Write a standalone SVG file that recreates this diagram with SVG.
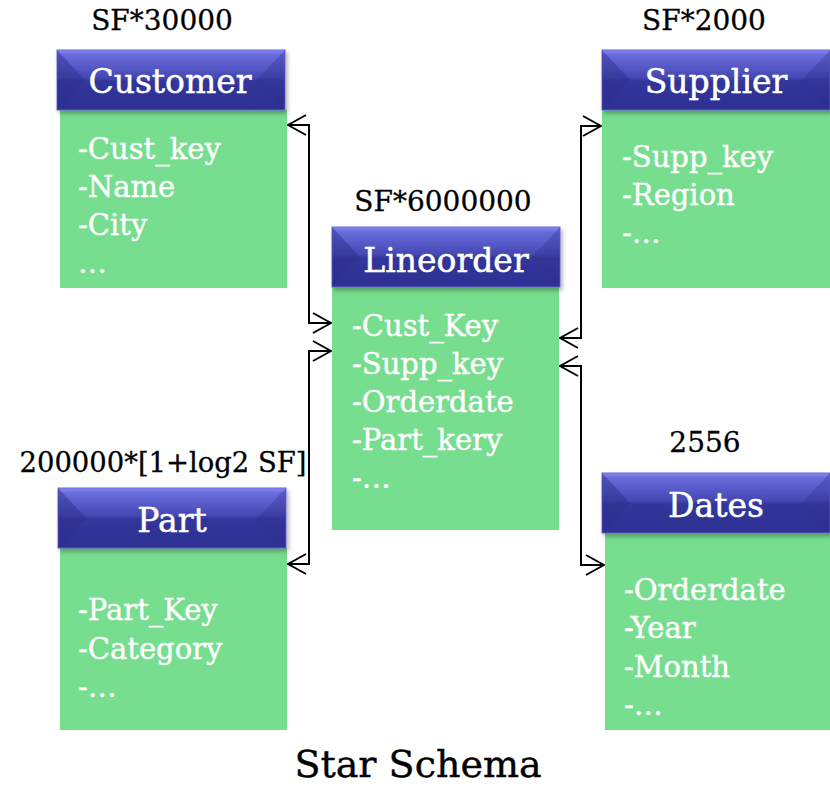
<svg xmlns="http://www.w3.org/2000/svg" xmlns:xlink="http://www.w3.org/1999/xlink" width="830" height="786" viewBox="0 0 830 786">
  <style>
    .body { fill: #77dd8f; }
    .title { font-family: "DejaVu Serif", "Liberation Serif", serif; font-size: 33px; fill: #ffffff; stroke: #ffffff; stroke-width: 0.5; text-anchor: middle; }
    .attr { font-family: "DejaVu Serif", "Liberation Serif", serif; font-size: 29px; fill: #ffffff; stroke: #ffffff; stroke-width: 0.4; }
    .card { font-family: "DejaVu Serif", "Liberation Serif", serif; font-size: 28px; fill: #000000; stroke: #000000; stroke-width: 0.3; }
    .caption { font-family: "DejaVu Serif", "Liberation Serif", serif; font-size: 38px; fill: #000000; stroke: #000000; stroke-width: 0.4; text-anchor: middle; }
    .link { fill: none; stroke: #000000; stroke-width: 2; }
  </style>
  <defs>
    <linearGradient id="face" x1="0" y1="0" x2="0" y2="1">
      <stop offset="0" stop-color="#8688f0"/>
      <stop offset="0.08" stop-color="#6a6cdc"/>
      <stop offset="0.45" stop-color="#4648b4"/>
      <stop offset="0.52" stop-color="#36389e"/>
      <stop offset="1" stop-color="#2f3194"/>
    </linearGradient>
    <filter id="shadow" x="-5%" y="-10%" width="115%" height="130%">
      <feDropShadow dx="2" dy="3" stdDeviation="2" flood-color="#000000" flood-opacity="0.3"/>
    </filter>
    <!-- bevelled title bar, 228 x 60 -->
    <g id="header">
      <rect x="0" y="0" width="228" height="60" fill="url(#face)" stroke="#6a6dd6" stroke-width="1" filter="url(#shadow)"/>
      <polygon points="0,0 28,30 0,60" fill="#2a2c88" opacity="0.45"/>
      <polygon points="228,0 200,30 228,60" fill="#2a2c88" opacity="0.3"/>
      <polygon points="0,60 28,30 200,30 228,60" fill="#2c2e90" opacity="0.25"/>
    </g>
    <!-- open arrowhead, tip at the path end -->
    <marker id="arrow" viewBox="0 0 20 22" refX="19" refY="11" markerWidth="20" markerHeight="22" markerUnits="userSpaceOnUse" orient="auto-start-reverse">
      <polyline points="1,1 19,11 1,21" fill="none" stroke="#000000" stroke-width="2"/>
    </marker>
  </defs>

  <!-- connectors -->
  <g id="connectors">
    <polyline class="link" marker-start="url(#arrow)" marker-end="url(#arrow)" points="288,125 309,125 309,323 331,323"/>
    <polyline class="link" marker-start="url(#arrow)" marker-end="url(#arrow)" points="331,351 309,351 309,564 288,564"/>
    <polyline class="link" marker-start="url(#arrow)" marker-end="url(#arrow)" points="601,126 581,126 581,338 560,338"/>
    <polyline class="link" marker-start="url(#arrow)" marker-end="url(#arrow)" points="560,366 581,366 581,565 604,565"/>
  </g>

  <g id="customer">
    <text class="card" x="162" y="30" text-anchor="middle">SF*30000</text>
    <rect class="body" x="60" y="110" width="227" height="178"/>
    <use xlink:href="#header" x="57" y="50"/>
    <text class="title" x="170" y="93">Customer</text>
    <text class="attr" x="78" y="159">-Cust_key</text>
    <text class="attr" x="78" y="197">-Name</text>
    <text class="attr" x="78" y="235">-City</text>
    <text class="attr" x="78" y="273">…</text>
  </g>

  <g id="supplier">
    <text class="card" x="704" y="30" text-anchor="middle">SF*2000</text>
    <rect class="body" x="602" y="110" width="228" height="178"/>
    <use xlink:href="#header" x="602" y="50"/>
    <text class="title" x="716" y="93">Supplier</text>
    <text class="attr" x="622" y="167">-Supp_key</text>
    <text class="attr" x="622" y="205">-Region</text>
    <text class="attr" x="622" y="243">-…</text>
  </g>

  <g id="lineorder">
    <text class="card" x="443" y="211" text-anchor="middle">SF*6000000</text>
    <rect class="body" x="332" y="287" width="227" height="243"/>
    <use xlink:href="#header" x="332" y="227"/>
    <text class="title" x="446" y="272">Lineorder</text>
    <text class="attr" x="352" y="336">-Cust_Key</text>
    <text class="attr" x="352" y="374">-Supp_key</text>
    <text class="attr" x="352" y="412">-Orderdate</text>
    <text class="attr" x="352" y="450">-Part_kery</text>
    <text class="attr" x="352" y="488">-…</text>
  </g>

  <g id="part">
    <text class="card" x="163" y="472" text-anchor="middle" textLength="287" lengthAdjust="spacingAndGlyphs">200000*[1+log2 SF]</text>
    <rect class="body" x="60" y="548" width="227" height="182"/>
    <use xlink:href="#header" x="58" y="488"/>
    <text class="title" x="172" y="532">Part</text>
    <text class="attr" x="78" y="620">-Part_Key</text>
    <text class="attr" x="78" y="659">-Category</text>
    <text class="attr" x="78" y="697">-…</text>
  </g>

  <g id="dates">
    <text class="card" x="705" y="452" text-anchor="middle">2556</text>
    <rect class="body" x="605" y="533" width="225" height="197"/>
    <use xlink:href="#header" x="602" y="473"/>
    <text class="title" x="716" y="517">Dates</text>
    <text class="attr" x="624" y="600">-Orderdate</text>
    <text class="attr" x="624" y="638">-Year</text>
    <text class="attr" x="624" y="677">-Month</text>
    <text class="attr" x="624" y="715">-…</text>
  </g>

  <text class="caption" x="418" y="777">Star Schema</text>
</svg>
